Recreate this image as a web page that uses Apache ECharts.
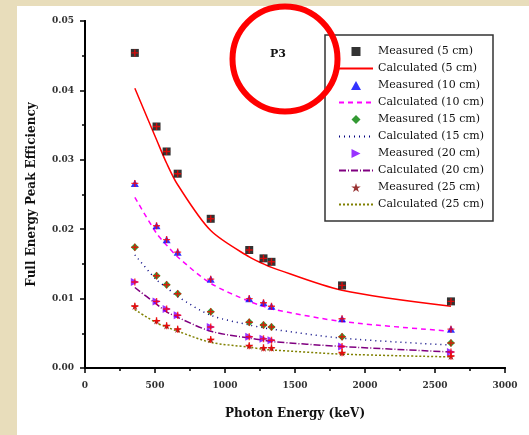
<!DOCTYPE html>
<html>
<head>
<meta charset="UTF-8">
<title>P3 efficiency</title>
<script src="https://cdn.jsdelivr.net/npm/echarts@6/dist/echarts.min.js"></script>
<style>
html, body {
    margin: 0;
    padding: 0;
    background: #e8ddbb;
}
#main {
    width: 529px;
    height: 435px;
}
</style>
</head>
<body>
<div id="main"></div>
<script>
// photon energies (keV)
var energy = [356, 511, 583, 662, 898, 1173, 1275, 1332, 1836, 2614];

// measured efficiencies
var meas5  = [0.0454, 0.0348, 0.0312, 0.0280, 0.0215, 0.0170, 0.0158, 0.0153, 0.0119, 0.0096];
var meas10 = [0.0266, 0.0205, 0.0185, 0.0167, 0.0128, 0.0100, 0.0094, 0.0089, 0.0071, 0.0056];
var meas15 = [0.0174, 0.0133, 0.0120, 0.0107, 0.0081, 0.0066, 0.0062, 0.0059, 0.0045, 0.0036];
var meas20 = [0.0124, 0.0096, 0.0085, 0.0076, 0.0059, 0.0045, 0.0042, 0.0040, 0.0031, 0.0023];
var meas25 = [0.0089, 0.0068, 0.0061, 0.0056, 0.0041, 0.0032, 0.0029, 0.0029, 0.0022, 0.0017];

// calculated efficiencies
var calc5  = [0.0403, 0.0329, 0.0295, 0.0264, 0.0198, 0.0160, 0.0150, 0.0145, 0.0112, 0.0089];
var calc10 = [0.0246, 0.0194, 0.0177, 0.0160, 0.0122, 0.0096, 0.0089, 0.0085, 0.0067, 0.0053];
var calc15 = [0.0163, 0.0127, 0.0116, 0.0103, 0.0076, 0.0062, 0.0058, 0.0056, 0.0043, 0.0033];
var calc20 = [0.0116, 0.0092, 0.0081, 0.0073, 0.0053, 0.0043, 0.0040, 0.0038, 0.0031, 0.0023];
var calc25 = [0.0084, 0.0065, 0.0059, 0.0053, 0.0037, 0.0030, 0.0027, 0.0026, 0.0020, 0.0016];

var distances = ['5', '10', '15', '20', '25'];

function pairs(ys) {
    return energy.map(function (e, i) { return [e, ys[i]]; });
}

var measList = [meas5, meas10, meas15, meas20, meas25];
var calcList = [calc5, calc10, calc15, calc20, calc25];
var markColors = ['#000000', '#0000ff', '#008000', '#8000ff', '#800000'];
var markSymbols = [
    'path://M0,0H10V10H0Z',
    'path://M5,0L10,9L0,9Z',
    'path://M5,0L10,5L5,10L0,5Z',
    'path://M0,0L10,5L0,10Z',
    'path://M5,0L6.2,3.6L10,3.6L6.9,5.9L8.1,9.5L5,7.3L1.9,9.5L3.1,5.9L0,3.6L3.8,3.6Z'
];
var lineColors = ['#ff0000', '#ff00ff', '#000080', '#800080', '#808000'];
var lineTypes = ['solid', [5, 4], [1, 4], [7, 2, 1, 2], [2, 2]];

var series = [];
var legendData = [];
var fontSerif = '"DejaVu Serif", "Liberation Serif", serif';

distances.forEach(function (d, k) {
    var mName = 'Measured (' + d + ' cm)';
    var cName = 'Calculated (' + d + ' cm)';
    legendData.push({ name: mName });
    legendData.push({ name: cName, itemStyle: { opacity: 0 } });
    series.push({
        name: mName,
        type: 'scatter',
        symbol: markSymbols[k],
        symbolSize: 8,
        symbolKeepAspect: true,
        itemStyle: { color: markColors[k] },
        data: pairs(measList[k]),
        z: 3
    });
    series.push({
        name: cName,
        type: 'line',
        smooth: 0.3,
        symbol: 'none',
        lineStyle: { color: lineColors[k], width: 1.5, type: lineTypes[k] },
        itemStyle: { color: lineColors[k] },
        data: pairs(calcList[k]),
        z: 2
    });
});

// red cross drawn over every measured point
distances.forEach(function (d, k) {
    series.push({
        name: 'cross' + d,
        type: 'scatter',
        symbol: 'path://M4,0H6V4H10V6H6V10H4V6H0V4H4Z',
        symbolSize: 7,
        itemStyle: { color: '#ff0000' },
        data: pairs(measList[k]),
        silent: true,
        z: 4
    });
});

var chart = echarts.init(document.getElementById('main'));
var option = {
    backgroundColor: 'transparent',
    animation: false,
    grid: { left: 85, right: 24, top: 21, bottom: 67 },
    graphic: [
        {
            type: 'rect', z: -10, silent: true,
            shape: { x: 17, y: 6, width: 520, height: 440 },
            style: { fill: '#ffffff' }
        },
        {
            type: 'rect', z: 1, silent: true,
            shape: { x: 325, y: 35, width: 168, height: 186 },
            style: { fill: '#ffffff', stroke: '#333333', lineWidth: 1.5 }
        },
        {
            type: 'text', z: 50, silent: true,
            left: 270, top: 49,
            style: { text: 'P3', fill: '#111', font: 'bold 11px ' + fontSerif }
        },
        {
            type: 'circle', z: 100, silent: true,
            shape: { cx: 285, cy: 59, r: 52.5 },
            style: { fill: 'none', stroke: '#ff0000', lineWidth: 6 }
        }
    ],
    legend: {
        data: legendData,
        orient: 'vertical',
        left: 333,
        top: 41,
        itemWidth: 34,
        itemHeight: 9,
        itemGap: 6,
        z: 5,
        textStyle: { fontFamily: fontSerif, fontSize: 11, color: '#111' }
    },
    xAxis: [
        {
            type: 'value', min: 0, max: 3000, interval: 500,
            name: 'Photon Energy (keV)', nameLocation: 'middle', nameGap: 40,
            nameTextStyle: { fontFamily: fontSerif, fontWeight: 'bold', fontSize: 12, color: '#111' },
            axisLine: { lineStyle: { color: '#000', width: 2 } },
            axisTick: { length: 5, lineStyle: { width: 1.5 } },
            minorTick: { show: true, splitNumber: 2, length: 3, lineStyle: { color: '#000', width: 1.5 } },
            splitLine: { show: false },
            axisLabel: {
                fontFamily: fontSerif, fontWeight: 'bold', fontSize: 9, color: '#333', margin: 13,
                formatter: function (v) { return String(v); }
            }
        },
        {
            type: 'value', min: 0, max: 3000, interval: 500, position: 'top',
            axisLine: { show: true, lineStyle: { color: '#000', width: 2 } },
            axisTick: { show: true, inside: true, length: 5, lineStyle: { width: 1.5 } },
            minorTick: { show: true, splitNumber: 2, length: 3, lineStyle: { color: '#000', width: 1.5 } },
            splitLine: { show: false },
            axisLabel: { show: false }
        }
    ],
    yAxis: [
        {
            type: 'value', min: 0, max: 0.05, interval: 0.01,
            name: 'Full Energy Peak Efficiency', nameLocation: 'middle', nameGap: 47,
            nameTextStyle: { fontFamily: fontSerif, fontWeight: 'bold', fontSize: 12, color: '#111' },
            axisLine: { show: true, lineStyle: { color: '#000', width: 2 } },
            axisTick: { show: true, length: 5, lineStyle: { width: 1.5 } },
            minorTick: { show: true, splitNumber: 2, length: 3, lineStyle: { color: '#000', width: 1.5 } },
            splitLine: { show: false },
            axisLabel: {
                fontFamily: fontSerif, fontWeight: 'bold', fontSize: 9, color: '#333', margin: 11,
                formatter: function (v) { return v.toFixed(2); }
            }
        },
        {
            type: 'value', min: 0, max: 0.05, interval: 0.01, position: 'right',
            axisLine: { show: true, lineStyle: { color: '#000', width: 2 } },
            axisTick: { show: true, inside: true, length: 5, lineStyle: { width: 1.5 } },
            minorTick: { show: true, splitNumber: 2, length: 3, lineStyle: { color: '#000', width: 1.5 } },
            splitLine: { show: false },
            axisLabel: { show: false }
        }
    ],
    series: series
};
chart.setOption(option);
</script>
</body>
</html>
